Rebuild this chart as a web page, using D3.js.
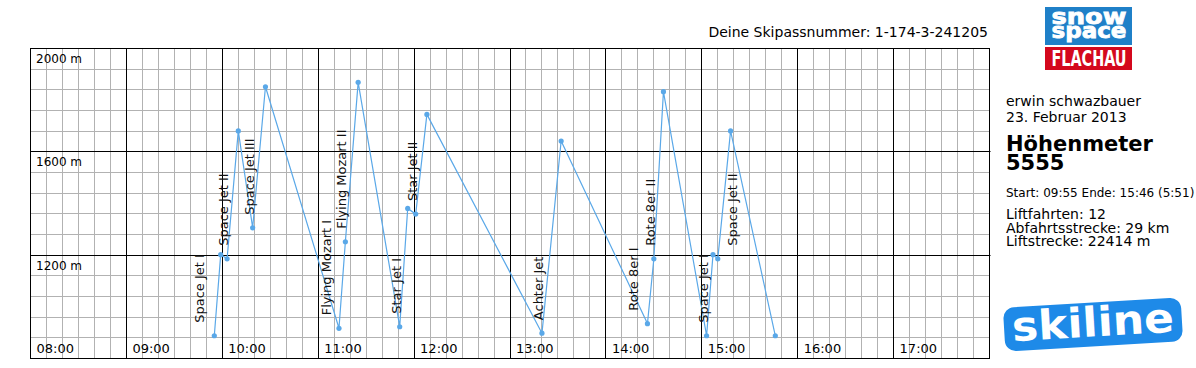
<!DOCTYPE html>
<html>
<head>
<meta charset="utf-8">
<script src="https://cdn.jsdelivr.net/npm/d3@7"></script>
<style>
  body { margin: 0; background: #fff; }
  svg { display: block; font-family: 'DejaVu Sans', Verdana, sans-serif; }
</style>
</head>
<body>
<svg id="chart" width="1196" height="368"></svg>
<script>
// ride profile: one point per station, in order
const times = ['09:55', '09:59', '10:03', '10:10', '10:19', '10:27', '11:13', '11:17', '11:25',
  '11:51', '11:56', '12:01', '12:08', '13:20', '13:32', '14:26', '14:30', '14:36',
  '15:03', '15:07', '15:10', '15:18', '15:46']
const altitudes = [888, 1202, 1186, 1681, 1306, 1852, 917, 1252, 1869,
  923, 1381, 1359, 1745, 898, 1642, 935, 1186, 1833,
  888, 1202, 1186, 1681, 888]
const liftNames = ['Space Jet I', 'Space Jet II', 'Space Jet III', 'Flying Mozart I', 'Flying Mozart II',
  'Star Jet I', 'Star Jet II', 'Achter Jet', 'Rote 8er I', 'Rote 8er II', 'Space Jet I', 'Space Jet II']
const liftStart = [0, 2, 4, 6, 7, 9, 11, 13, 15, 16, 18, 20] // index of valley station in times
const hourTicks = ['08:00', '09:00', '10:00', '11:00', '12:00', '13:00', '14:00', '15:00', '16:00', '17:00']
const altTicks = [2000, 1600, 1200]

const passNumber = '1-174-3-241205'
const skierName = 'erwin schwazbauer'
const dayLabel = '23. Februar 2013'
const totalMeters = 5555
const startTime = '09:55'
const endTime = '15:46'
const duration = '5:51'
const liftRides = 12
const runKm = 29
const liftMeters = 22414

const lineColor = '#5aa8e8'
const minorColor = '#b2b2b2'
// hand nudges so neighbouring lift names do not sit on top of each other
const labelNudge = {0: -11, 3: -9, 8: -10, 11: 18}

let toMin = (s) => { let p = s.split(':'); return +p[0] * 60 + +p[1] }
let crisp = (v) => Math.round(v - 0.5) + 0.5

let svg = d3.select('#chart')
let xScale = d3.scaleLinear().domain([480, 1080]).range([30.5, 989.5])
let yScale = d3.scaleLinear().domain([800, 2000]).range([358.5, 48.5])
let [x0, x1] = xScale.range()
let [yb, yt] = yScale.range()

// grid
let grid = svg.append('g').classed('grid', true)
grid.selectAll('.vminor')
  .data(d3.range(490, 1080, 10).filter(m => m % 60))
  .join('line')
  .attr('x1', d => crisp(xScale(d))).attr('x2', d => crisp(xScale(d)))
  .attr('y1', yt).attr('y2', yb)
  .style('stroke', minorColor)
grid.selectAll('.hminor')
  .data(d3.range(880, 2000, 80).filter(a => a % 400))
  .join('line')
  .attr('y1', d => crisp(yScale(d))).attr('y2', d => crisp(yScale(d)))
  .attr('x1', x0).attr('x2', x1)
  .style('stroke', minorColor)
grid.selectAll('.vmajor')
  .data(d3.range(540, 1080, 60))
  .join('line')
  .attr('x1', d => crisp(xScale(d))).attr('x2', d => crisp(xScale(d)))
  .attr('y1', yt).attr('y2', yb)
  .style('stroke', '#000')
grid.selectAll('.hmajor')
  .data([1200, 1600])
  .join('line')
  .attr('y1', d => crisp(yScale(d))).attr('y2', d => crisp(yScale(d)))
  .attr('x1', x0).attr('x2', x1 + 1)
  .style('stroke', '#000')
grid.append('rect')
  .attr('x', x0).attr('y', yt)
  .attr('width', x1 - x0).attr('height', yb - yt)
  .style('fill', 'none').style('stroke', '#000')

// axis labels
svg.append('g').selectAll('text')
  .data(hourTicks)
  .join('text')
  .attr('x', d => xScale(toMin(d)) + 6)
  .attr('y', 352.5)
  .style('font-size', '13px')
  .text(d => d)
svg.append('g').selectAll('text')
  .data(altTicks)
  .join('text')
  .attr('x', 36)
  .attr('y', d => yScale(d) + 14.5)
  .style('font-size', '12px')
  .text(d => d + ' m')

// profile
let pts = times.map((t, i) => ({t: toMin(t), alt: altitudes[i]}))
let lineGenerator = d3.line()
  .x(d => xScale(d.t))
  .y(d => yScale(d.alt))
svg.append('path')
  .attr('d', lineGenerator(pts))
  .style('fill', 'none')
  .style('stroke', lineColor)
  .style('stroke-width', 1.2)
svg.append('g').selectAll('circle')
  .data(pts)
  .join('circle')
  .attr('cx', d => xScale(d.t))
  .attr('cy', d => yScale(d.alt))
  .attr('r', 2.6)
  .style('fill', lineColor)

svg.append('g').selectAll('text')
  .data(liftNames)
  .join('text')
  .attr('transform', (d, i) => {
    let p = pts[liftStart[i]]
    return `translate(${xScale(p.t) + 1 + (labelNudge[i] || 0)}, ${yScale(p.alt) - 13}) rotate(-90)`
  })
  .style('font-size', '13px')
  .style('fill', '#111')
  .text(d => d)

// header
svg.append('text')
  .attr('x', 988).attr('y', 37)
  .attr('text-anchor', 'end')
  .style('font-size', '14px')
  .text('Deine Skipassnummer: ' + passNumber)

// snow space logo
let logo = svg.append('g')
logo.append('rect').attr('x', 1045).attr('y', 7).attr('width', 87).attr('height', 38).style('fill', '#1f80c8')
logo.append('rect').attr('x', 1045).attr('y', 47).attr('width', 87).attr('height', 23).style('fill', '#d4081d')
logo.selectAll('.word')
  .data([['snow', 24], ['space', 37.5]])
  .join('text')
  .attr('x', 1051.5).attr('y', d => d[1])
  .attr('textLength', 75).attr('lengthAdjust', 'spacingAndGlyphs')
  .style('font-size', '21px').style('font-weight', 'bold')
  .style('fill', '#fff').style('stroke', '#fff').style('stroke-width', 0.8)
  .text(d => d[0])
logo.append('text')
  .attr('x', 1051.5).attr('y', 65.7)
  .attr('textLength', 75).attr('lengthAdjust', 'spacingAndGlyphs')
  .style('font-family', "'DejaVu Sans Condensed', 'DejaVu Sans', sans-serif")
  .style('font-stretch', 'condensed')
  .style('font-size', '21px').style('font-weight', 'bold')
  .style('fill', '#fff')
  .text('FLACHAU')

// skier info
let info = svg.append('g')
info.append('text').attr('x', 1006).attr('y', 106).style('font-size', '14px').text(skierName)
info.append('text').attr('x', 1006).attr('y', 122).style('font-size', '14px').text(dayLabel)
info.append('text').attr('x', 1006).attr('y', 151).style('font-size', '21px').style('font-weight', 'bold').text('Höhenmeter')
info.append('text').attr('x', 1006).attr('y', 170).style('font-size', '21px').style('font-weight', 'bold').text(totalMeters)
info.append('text').attr('x', 1006).attr('y', 197).style('font-size', '12px')
  .text(`Start: ${startTime} Ende: ${endTime} (${duration})`)
info.selectAll('.stat')
  .data([`Liftfahrten: ${liftRides}`, `Abfahrtsstrecke: ${runKm} km`, `Liftstrecke: ${liftMeters} m`])
  .join('text')
  .attr('x', 1006)
  .attr('y', (d, i) => 219 + i * 13.7)
  .style('font-size', '14px')
  .text(d => d)

// skiline logo
let sk = svg.append('g').attr('transform', 'translate(1093, 324.5) rotate(-3.4)')
sk.append('rect')
  .attr('x', -89).attr('y', -22).attr('width', 178).attr('height', 44)
  .attr('rx', 11)
  .style('fill', '#1e8ae8')
sk.append('text')
  .attr('x', -81).attr('y', 12)
  .attr('textLength', 162).attr('lengthAdjust', 'spacingAndGlyphs')
  .style('font-size', '41px').style('font-weight', 'bold')
  .style('fill', '#fff')
  .text('skiline')
</script>
</body>
</html>
